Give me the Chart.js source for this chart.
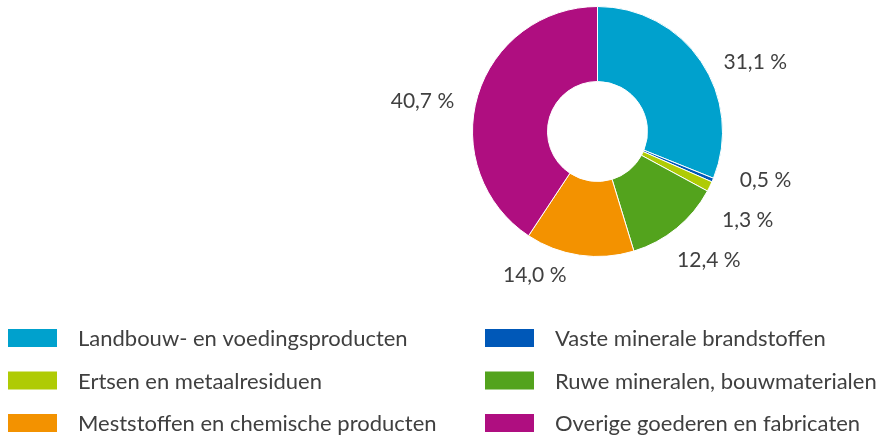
<!DOCTYPE html>
<html>
<head>
<meta charset="utf-8">
<script src="https://cdn.jsdelivr.net/npm/chart.js@4.4.1/dist/chart.umd.min.js"></script>
<style>
  html, body { margin: 0; padding: 0; background: #fff; }
  #wrap { width: 881px; height: 441px; }
</style>
</head>
<body>
<div id="wrap"><canvas id="myChart" width="881" height="441"></canvas></div>
<script>
const categories = [
    'Landbouw- en voedingsproducten',
    'Vaste minerale brandstoffen',
    'Ertsen en metaalresiduen',
    'Ruwe mineralen, bouwmaterialen',
    'Meststoffen en chemische producten',
    'Overige goederen en fabricaten'
];
const shares = [31.1, 0.5, 1.3, 12.4, 14.0, 40.7];
const sliceColors = ['#00a1cd', '#0058b8', '#afcb05', '#53a31d', '#f39200', '#af0e80'];

// label nudges (Excel pushes some labels aside)
const labelNudge = [[21, 23], [16, -15], [2, 16], [7, 1], [-39, -20], [-17, 17]];

const textColor = '#404040';
const fontFamily = 'Lato, "Open Sans", sans-serif';

const pctLabels = {
    id: 'pctLabels',
    afterDatasetsDraw(chart) {
        const { ctx } = chart;
        const meta = chart.getDatasetMeta(0);
        ctx.save();
        ctx.font = '21px ' + fontFamily;
        ctx.fillStyle = textColor;
        ctx.textAlign = 'center';
        ctx.textBaseline = 'middle';
        meta.data.forEach((arc, i) => {
            const p = arc.getProps(['x', 'y', 'startAngle', 'endAngle', 'outerRadius'], true);
            const mid = (p.startAngle + p.endAngle) / 2;
            const r = p.outerRadius + 40;
            const x = p.x + Math.cos(mid) * r + labelNudge[i][0];
            const y = p.y + Math.sin(mid) * r + labelNudge[i][1];
            const txt = shares[i].toFixed(1).replace('.', ',') + ' %';
            ctx.fillText(txt, x, y);
        });
        ctx.restore();
    }
};

// two column legend under the chart
const twoColLegend = {
    id: 'twoColLegend',
    afterDraw(chart) {
        const { ctx } = chart;
        ctx.save();
        ctx.font = '22px ' + fontFamily;
        ctx.textBaseline = 'middle';
        ctx.textAlign = 'left';
        chart.data.labels.forEach((lbl, i) => {
            const col = i % 2;
            const row = Math.floor(i / 2);
            const bx = col == 0 ? 8 : 485;
            const by = 338 + row * 42.5;
            ctx.fillStyle = chart.data.datasets[0].backgroundColor[i];
            ctx.fillRect(bx, by - 9, 49, 18);
            ctx.fillStyle = textColor;
            ctx.fillText(lbl, bx + 70, by + 1);
        });
        ctx.restore();
    }
};

new Chart(document.getElementById('myChart'), {
    type: 'doughnut',
    data: {
        labels: categories,
        datasets: [{
            data: shares,
            backgroundColor: sliceColors,
            borderColor: '#ffffff',
            borderWidth: 1
        }]
    },
    options: {
        responsive: false,
        animation: false,
        cutout: '40%',
        layout: {
            padding: { left: 472, right: 158, top: 6, bottom: 184 }
        },
        plugins: {
            legend: { display: false },
            tooltip: { enabled: false }
        }
    },
    plugins: [pctLabels, twoColLegend]
});
</script>
</body>
</html>
